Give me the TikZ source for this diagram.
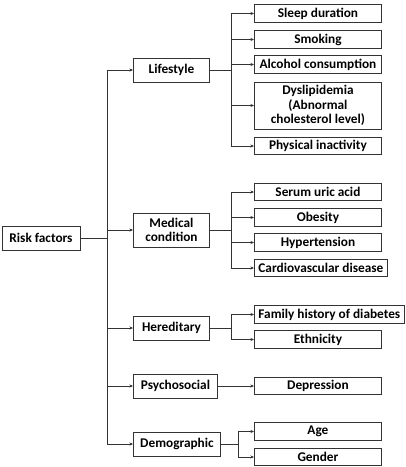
\documentclass[tikz,border=0pt]{standalone}
\usepackage{fontspec}
\setmainfont{Carlito}
\usepackage{tikz}
\usetikzlibrary{arrows.meta,calc}
\definecolor{ink}{HTML}{333333}

\tikzset{
  box/.style={draw=ink,line width=0.9pt,inner sep=1.5pt,align=center,font=\bfseries\fontsize{13.3}{14.5}\selectfont},
  catbox/.style={box,anchor=west,minimum width=76pt,minimum height=24pt},
  leafbox/.style={box,anchor=west,inner xsep=4pt,minimum width=127pt,minimum height=17.5pt},
  link/.style={draw=ink,line width=0.8pt},
  arr/.style={link,-{Stealth[length=3.5pt,width=3pt]}}
}

\begin{document}
\begin{tikzpicture}[x=1pt,y=-1pt]
    \useasboundingbox (0,0) rectangle (406,467);
    % root and categories
    \node[box,minimum width=78pt,minimum height=24pt] (risk) at (41,238) {Risk factors};
    \node[catbox] (life) at (133,70) {Lifestyle};
    \node[catbox,minimum height=34pt] (med) at (133,230) {Medical\\condition};
    \node[catbox] (hered) at (133,328) {Hereditary};
    \node[catbox,minimum width=84pt] (psy) at (133,386) {Psychosocial};
    \node[catbox,minimum width=87pt] (demo) at (133,444) {Demographic};
    % leaves
    \node[leafbox] (sleep) at (254,13.5) {Sleep duration};
    \node[leafbox] (smok) at (254,39.5) {Smoking};
    \node[leafbox] (alc) at (254,64.5) {Alcohol consumption};
    \node[leafbox,minimum height=47pt] (dys) at (254,105.5) {Dyslipidemia\\(Abnormal\\cholesterol level)};
    \node[leafbox] (phys) at (254,146) {Physical inactivity};
    \node[leafbox] (uric) at (254,192) {Serum uric acid};
    \node[leafbox] (obes) at (254,217.5) {Obesity};
    \node[leafbox] (hyper) at (254,242.5) {Hypertension};
    \node[leafbox] (cardio) at (254,268) {Cardiovascular disease};
    \node[leafbox] (family) at (254,314.5) {Family history of diabetes};
    \node[leafbox] (eth) at (254,339.5) {Ethnicity};
    \node[leafbox] (depr) at (254,386) {Depression};
    \node[leafbox] (age) at (254,431.5) {Age};
    \node[leafbox] (gender) at (254,457) {Gender};
    % trunk
    \coordinate (trunk) at (107,0);
    \draw[link] (risk.east) -- (trunk |- risk.east);
    \draw[link] (trunk |- life.west) -- (trunk |- demo.west);
    \foreach \c in {life,med,hered,psy,demo}
      \draw[arr] (trunk |- \c.west) -- (\c.west);
    % branches
    \coordinate (fork) at (231,0);
    \coordinate (fork2) at (238,0);
    \draw[link] (life.east) -- (fork |- life.east);
    \draw[link] (fork |- sleep.west) -- (fork |- phys.west);
    \foreach \c in {sleep,smok,alc,dys,phys}
      \draw[arr] (fork |- \c.west) -- (\c.west);
    \draw[link] (med.east) -- (fork |- med.east);
    \draw[link] (fork |- uric.west) -- (fork |- cardio.west);
    \foreach \c in {uric,obes,hyper,cardio}
      \draw[arr] (fork |- \c.west) -- (\c.west);
    \draw[link] (hered.east) -- (fork |- hered.east);
    \draw[link] (fork |- family.west) -- (fork |- eth.west);
    \foreach \c in {family,eth}
      \draw[arr] (fork |- \c.west) -- (\c.west);
    \draw[arr] (psy.east) -- (depr.west);
    \draw[link] (demo.east) -- (fork2 |- demo.east);
    \draw[link] (fork2 |- age.west) -- (fork2 |- gender.west);
    \foreach \c in {age,gender}
      \draw[arr] (fork2 |- \c.west) -- (\c.west);
  \end{tikzpicture}
\end{document}
